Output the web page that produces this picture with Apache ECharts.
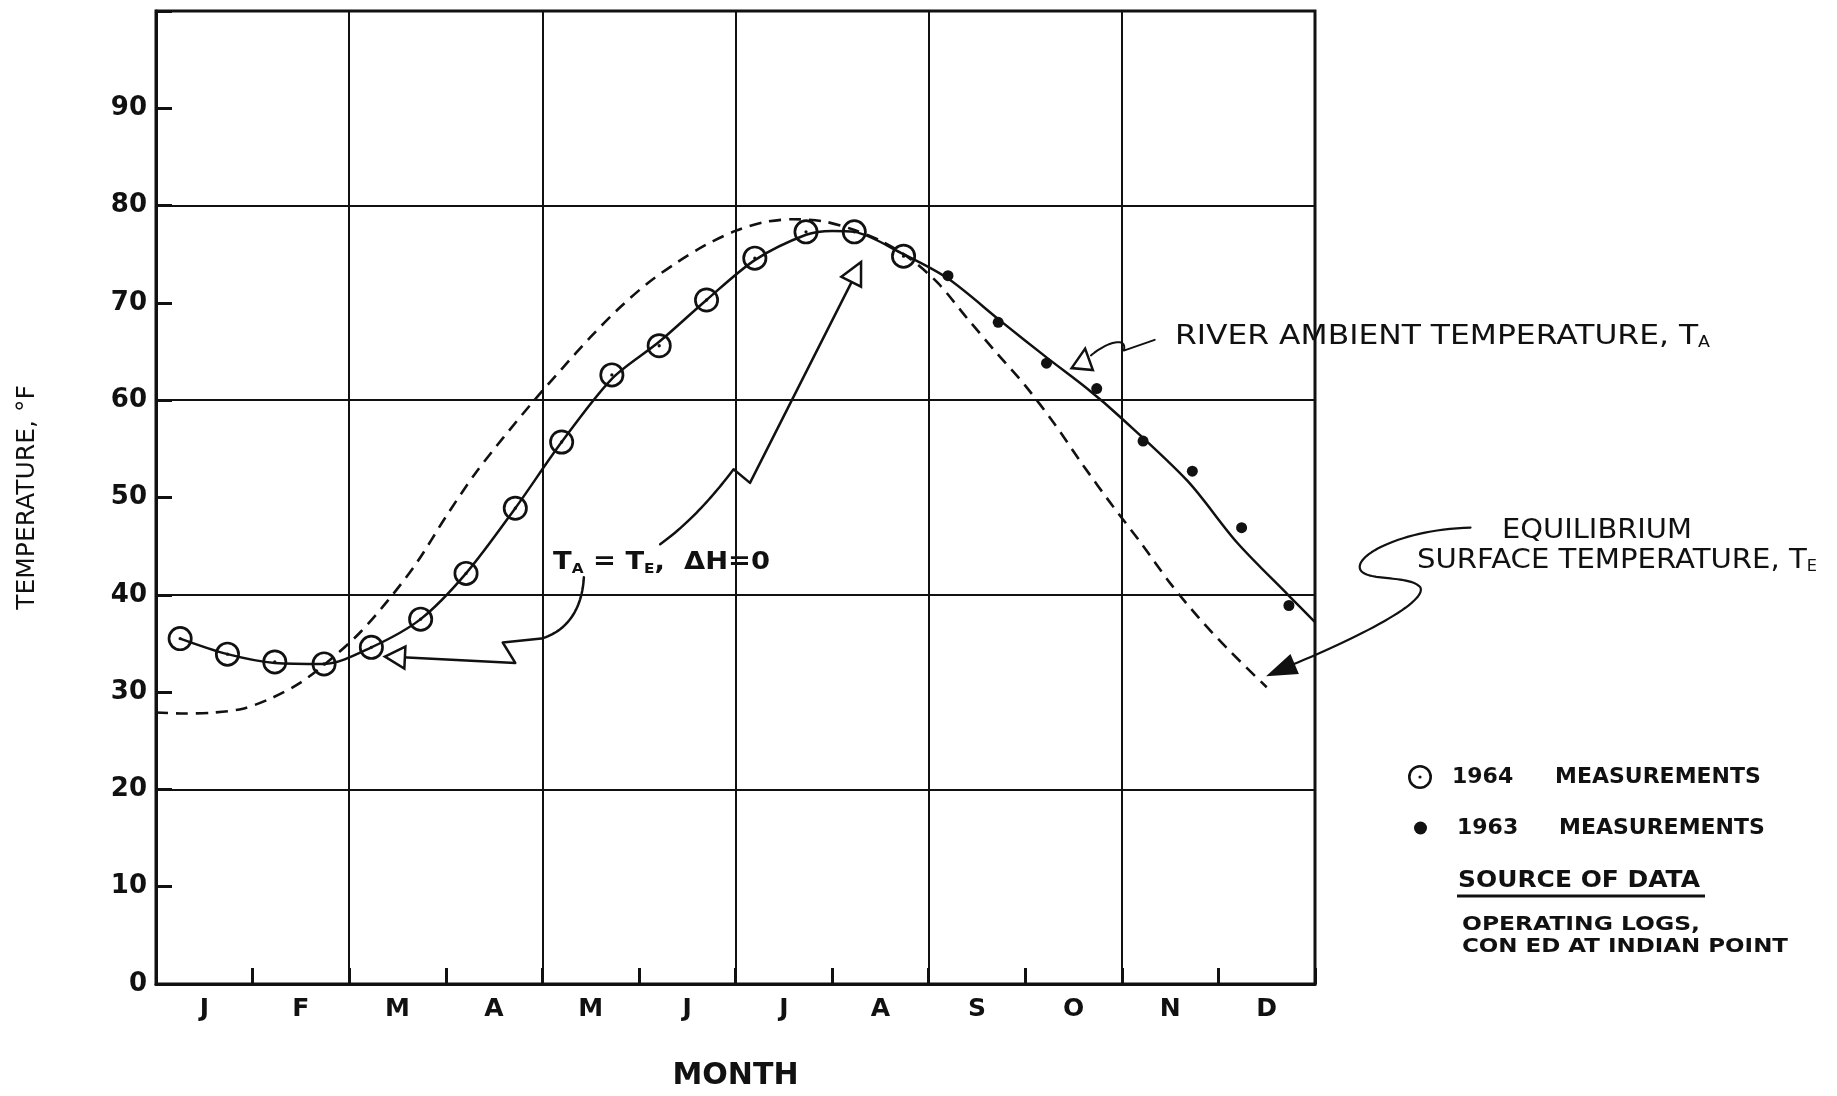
<!DOCTYPE html>
<html>
<head>
<meta charset="utf-8">
<script src="https://cdn.jsdelivr.net/npm/echarts@6/dist/echarts.min.js"></script>
<style>
html,body{margin:0;padding:0;background:#ffffff;}
#main{width:1837px;height:1096px;}
</style>
</head>
<body>
<div id="main"></div>
<script>
// ---------- data ----------
const months = ['J','F','M','A','M','J','J','A','S','O','N','D'];
const yTickLabels = ['0','10','20','30','40','50','60','70','80','90'];

// 1964 measurements (open circles with centre dot), x in months from Jan 1
const x1964 = [0.25,0.74,1.23,1.74,2.23,2.74,3.21,3.72,4.20,4.72,5.21,5.70,6.20,6.73,7.23,7.74];
const y1964 = [35.5,33.9,33.1,32.9,34.6,37.5,42.2,48.9,55.7,62.6,65.6,70.3,74.6,77.3,77.3,74.8];

// 1963 measurements (solid dots)
const x1963 = [8.20,8.72,9.22,9.74,10.22,10.73,11.24,11.73];
const y1963 = [72.8,68.0,63.8,61.2,55.8,52.7,46.9,38.9];

// River ambient temperature T_A (solid curve)
const xRiver = [0.25,0.74,1.23,1.74,2.23,2.74,3.21,3.72,4.20,4.72,5.21,5.70,6.20,6.73,7.00,7.23,7.74,8.20,8.75,9.22,9.64,9.98,10.68,11.19,11.73,12.00];
const yRiver = [35.5,33.9,33.0,32.9,34.6,37.5,42.2,48.9,55.7,62.2,66.0,70.3,74.4,77.0,77.4,77.3,75.0,72.5,68.1,64.4,61.2,58.3,51.7,45.4,39.9,37.2];

// Equilibrium surface temperature T_E (dashed curve)
const xEquil = [0,0.3,0.6,0.9,1.2,1.5,1.8,2.1,2.4,2.7,3.0,3.3,3.6,3.9,4.2,4.5,4.8,5.1,5.4,5.7,6.0,6.3,6.6,6.9,7.2,7.5,7.8,8.1,8.4,8.7,9.0,9.3,9.6,9.9,10.2,10.5,10.8,11.1,11.5];
const yEquil = [27.9,27.8,27.9,28.3,29.4,31.0,33.3,36.0,39.4,43.3,48.0,52.4,56.2,59.8,63.2,66.5,69.5,72.1,74.2,76.0,77.4,78.3,78.6,78.4,77.6,76.4,74.6,72.0,68.4,64.9,61.5,57.6,53.3,49.2,45.3,41.2,37.6,34.4,30.5];

const legendNames = ['1964','1963'];
const legendWord = 'MEASUREMENTS';

// ---------- helpers ----------
const zip = (xs, ys) => xs.map((x, i) => [x, ys[i]]);
const INK = '#111111';
const FONT = 'DejaVu Sans';
const ringPath = 'path://M0,12A12,12,0,0,1,24,12A12,12,0,0,1,0,12Z' +
  'M2.6,12A9.4,9.4,0,0,0,21.4,12A9.4,9.4,0,0,0,2.6,12Z' +
  'M10.4,12A1.6,1.6,0,0,1,13.6,12A1.6,1.6,0,0,1,10.4,12Z';

const chart = echarts.init(document.getElementById('main'), null, {renderer: 'canvas'});

const legendText = (sw, yw) => ({
  color: INK, fontFamily: FONT, fontWeight: 'bold', fontSize: 22,
  rich: {
    s: {width: sw},
    y: {width: yw, fontFamily: FONT, fontWeight: 'bold', fontSize: 22, color: INK},
    m: {fontFamily: FONT, fontWeight: 'bold', fontSize: 22, color: INK}
  }
});

const option = {
  animation: false,
  backgroundColor: '#ffffff',
  grid: {left: 156, right: 522, top: 11, bottom: 107, show: true, borderColor: INK, borderWidth: 3, containLabel: false},
  xAxis: [
    {
      type: 'value', min: 0, max: 12, interval: 1, position: 'bottom',
      axisLine: {show: true, lineStyle: {color: INK, width: 3}},
      axisTick: {show: true, inside: true, length: 16, lineStyle: {color: INK, width: 3}},
      axisLabel: {show: false},
      splitLine: {show: true, lineStyle: {color: [INK, 'rgba(0,0,0,0)'], width: 2}}
    },
    {
      type: 'category', data: months, position: 'bottom', boundaryGap: true,
      axisLine: {show: false}, axisTick: {show: false}, splitLine: {show: false},
      axisLabel: {color: INK, fontFamily: FONT, fontWeight: 'bold', fontSize: 25, margin: 13},
      name: 'MONTH', nameLocation: 'middle', nameGap: 77,
      nameTextStyle: {color: INK, fontFamily: FONT, fontWeight: 'bold', fontSize: 30}
    }
  ],
  yAxis: {
    type: 'value', min: 0, max: 100, interval: 10,
    axisLine: {show: true, lineStyle: {color: INK, width: 3}},
    axisTick: {show: true, inside: true, length: 16, lineStyle: {color: INK, width: 3}},
    axisLabel: {color: INK, fontFamily: FONT, fontWeight: 'bold', fontSize: 26, margin: 9,
      formatter: v => { const i = Math.round(v / 10); return i < yTickLabels.length ? yTickLabels[i] : ''; }},
    splitLine: {show: true, lineStyle: {color: [INK, 'rgba(0,0,0,0)'], width: 2}},
    name: 'TEMPERATURE, °F', nameLocation: 'middle', nameGap: 116, nameRotate: 90,
    nameTextStyle: {color: INK, fontFamily: FONT, fontSize: 25}
  },
  legend: [
    {
      data: [{name: legendNames[0], icon: ringPath}], orient: 'vertical', left: 1408, top: 765, padding: 0,
      itemWidth: 24, itemHeight: 24, selectedMode: false,
      itemStyle: {color: INK, opacity: 1},
      formatter: n => '{s|}{y|' + n + '}{m|' + legendWord + '}',
      textStyle: legendText(15, 103)
    },
    {
      data: [{name: legendNames[1], icon: 'circle'}], orient: 'vertical', left: 1414, top: 817, padding: 0,
      itemWidth: 13, itemHeight: 13, selectedMode: false,
      itemStyle: {color: INK, opacity: 1},
      formatter: n => '{s|}{y|' + n + '}{m|' + legendWord + '}',
      textStyle: legendText(25, 102)
    }
  ],
  series: [
    {name: 'RIVER AMBIENT TEMPERATURE, TA', type: 'line', xAxisIndex: 0, yAxisIndex: 0,
     data: zip(xRiver, yRiver), smooth: 0.3, symbol: 'none', lineStyle: {color: INK, width: 2.5}, z: 3},
    {name: 'EQUILIBRIUM SURFACE TEMPERATURE, TE', type: 'line', xAxisIndex: 0, yAxisIndex: 0,
     data: zip(xEquil, yEquil), smooth: 0.3, symbol: 'none', lineStyle: {color: INK, width: 2.6, type: [12, 8]}, z: 3},
    {name: legendNames[0], type: 'scatter', xAxisIndex: 0, yAxisIndex: 0,
     data: zip(x1964, y1964), symbol: ringPath, symbolSize: 25, itemStyle: {color: INK, opacity: 1}, z: 4},
    {name: legendNames[1], type: 'scatter', xAxisIndex: 0, yAxisIndex: 0,
     data: zip(x1963, y1963), symbol: 'circle', symbolSize: 11, itemStyle: {color: INK, opacity: 1}, z: 4}
  ]
};
chart.setOption(option);

// ---------- annotations (anchored in data units) ----------
const P = (x, y) => chart.convertToPixel({xAxisIndex: 0, yAxisIndex: 0}, [x, y]);
// turn M/L/C commands (data units) into a pixel polyline
function flatten(cmds) {
  const pts = [];
  let cur = null;
  cmds.forEach(c => {
    if (c[0] === 'M' || c[0] === 'L') {
      cur = P(c[1], c[2]); pts.push(cur);
    } else if (c[0] === 'C') {
      const a = cur, b = P(c[1], c[2]), d = P(c[3], c[4]), e = P(c[5], c[6]);
      for (let k = 1; k <= 30; k++) {
        const t = k / 30, u = 1 - t;
        pts.push([
          u*u*u*a[0] + 3*u*u*t*b[0] + 3*u*t*t*d[0] + t*t*t*e[0],
          u*u*u*a[1] + 3*u*u*t*b[1] + 3*u*t*t*d[1] + t*t*t*e[1]
        ]);
      }
      cur = e;
    }
  });
  return pts;
}
function plainLine(cmds, w) {
  return {type: 'polyline', z: 9, shape: {points: flatten(cmds)},
    style: {fill: null, stroke: INK, lineWidth: w || 2.5, lineCap: 'round', lineJoin: 'round'}};
}
function arrowHead(tip, from, len, half, filled) {
  const T = P(tip[0], tip[1]), B = P(from[0], from[1]);
  let dx = T[0] - B[0], dy = T[1] - B[1];
  const d = Math.hypot(dx, dy); dx /= d; dy /= d;
  const bx = T[0] - dx * len, by = T[1] - dy * len;
  return {type: 'polygon', z: 10,
    shape: {points: [[T[0], T[1]], [bx - dy * half, by + dx * half], [bx + dy * half, by - dx * half]]},
    style: {fill: filled ? INK : '#ffffff', stroke: INK, lineWidth: 2.5, lineJoin: 'miter'}};
}
const cv = document.createElement('canvas').getContext('2d');
function measure(size, weight, str) { cv.font = (weight || 'normal') + ' ' + size + 'px "' + FONT + '"'; return cv.measureText(str).width; }
function richText(parts, x, y, target, align) {
  // parts: [[text, size, weight, isSub]]
  let w = 0; let s = ''; const rich = {};
  parts.forEach((p, i) => {
    w += measure(p[1], p[2], p[0]);
    const key = 't' + i;
    rich[key] = {fontFamily: FONT, fontSize: p[1], fontWeight: p[2] || 'normal', fill: INK,
      verticalAlign: p[3] ? 'bottom' : 'middle', lineHeight: p[3] ? p[1] : 30, padding: p[3] ? [0, 0, 1, 0] : 0};
    s += '{' + key + '|' + p[0] + '}';
  });
  return {type: 'text', x: x, y: y, z: 10, scaleX: target / w, originX: 0, originY: 0,
    style: {text: s, rich: rich, fill: INK, align: align || 'left', verticalAlign: 'middle'}};
}

const graphics = [];
// T_A = T_E arrow to March
graphics.push(plainLine([
  ['M', 4.43, 41.8],
  ['C', 4.41, 38.2, 4.23, 36.2, 3.99, 35.5],
  ['L', 3.59, 35.1],
  ['L', 3.72, 33.0],
  ['L', 2.50, 33.6]
]));
graphics.push(arrowHead([2.37, 33.65], [3.72, 33.0], 20, 11, false));
// T_A = T_E arrow to peak
graphics.push(plainLine([
  ['M', 5.22, 45.2],
  ['C', 5.53, 47.4, 5.79, 50.4, 5.98, 52.9],
  ['L', 6.15, 51.5],
  ['L', 7.22, 72.5]
]));
graphics.push(arrowHead([7.30, 74.2], [6.15, 51.5], 22, 11, false));
// River ambient leader
graphics.push({type: 'polygon', z: 10, shape: {points: [P(9.48, 63.3), P(9.62, 65.3), P(9.70, 63.1)]},
  style: {fill: '#ffffff', stroke: INK, lineWidth: 2.5}});
graphics.push(plainLine([
  ['M', 9.68, 64.6],
  ['C', 9.86, 66.1, 10.06, 66.5, 10.02, 65.1],
  ['L', 10.34, 66.2]
], 2));
// Equilibrium leader
graphics.push(plainLine([
  ['M', 13.61, 46.91],
  ['C', 12.88, 46.71, 12.36, 43.85, 12.48, 42.42],
  ['C', 12.58, 41.40, 12.98, 42.01, 13.09, 40.78],
  ['C', 13.17, 39.25, 12.46, 35.67, 11.75, 32.75]
], 2.2));
graphics.push(arrowHead([11.53, 31.79], [12.10, 34.2], 26, 9, true));

// Texts
graphics.push(richText([['RIVER AMBIENT TEMPERATURE, T', 27], ['A', 15, 'normal', true]], 1175, 337, 535));
graphics.push(richText([['EQUILIBRIUM', 27]], 1597, 531, 190, 'center'));
graphics.push(richText([['SURFACE TEMPERATURE, T', 27], ['E', 15, 'normal', true]], 1417, 561, 400));
graphics.push(richText([['T', 25, 'bold'], ['A', 14, 'bold', true], [' = T', 25, 'bold'], ['E', 14, 'bold', true], [',  ΔH=0', 25, 'bold']], 553, 562, 217));
graphics.push(richText([['SOURCE OF DATA', 23, 'bold']], 1458, 881, 242));
graphics.push({type: 'line', z: 10, shape: {x1: 1457, y1: 896, x2: 1705, y2: 896}, style: {stroke: INK, lineWidth: 3}});
graphics.push(richText([['OPERATING LOGS,', 20, 'bold']], 1462, 925, 238));
graphics.push(richText([['CON ED AT INDIAN POINT', 20, 'bold']], 1462, 947, 326));

chart.setOption({graphic: graphics});
</script>
</body>
</html>
